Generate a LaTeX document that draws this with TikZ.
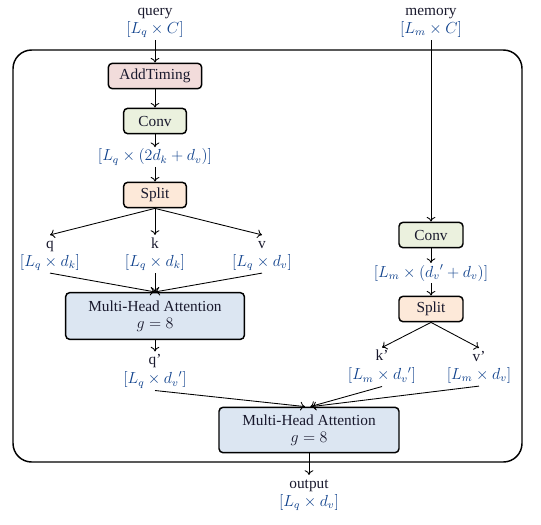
\documentclass[tikz,border=0pt]{standalone}
\usepackage{fontspec}
\setmainfont{Liberation Serif}
\usetikzlibrary{arrows.meta}

\definecolor{timingpink}{RGB}{242,220,219}
\definecolor{convgreen}{RGB}{235,241,222}
\definecolor{splitpeach}{RGB}{253,233,217}
\definecolor{attnblue}{RGB}{220,230,242}
\definecolor{dimblue}{RGB}{15,65,140}
\definecolor{labeltext}{RGB}{25,25,45}

\newcommand{\dims}[1]{\textcolor{dimblue}{$#1$}}
% name on top, shape below
\newcommand{\tensorlabel}[2]{\strut #1\\ \dims{#2}\strut}

\tikzset{
    block/.style = {draw, line width=1.1pt, rounded corners=3pt,
        minimum height=19pt, align=center, text=labeltext},
    tensor/.style = {align=center, text=labeltext, inner sep=1pt},
    flow/.style = {-{To[length=3.5pt, width=6.5pt]}, line width=0.65pt}
}

\begin{document}
\begin{tikzpicture}[x=0.75pt, y=-0.75pt, font=\fontsize{11.5}{12.5}\selectfont]
    \useasboundingbox (0,0) rectangle (541,524);
    \draw [line width=1.1pt, rounded corners=14pt] (13,50) rectangle (522,462);

    % query branch
    \draw (155,21) node(query) [tensor] {\tensorlabel{query}{[L_q\times C]}};
    \draw (155,76) node(timing) [block, fill=timingpink, minimum width=70pt] {AddTiming};
    \draw (155,121) node(conv) [block, fill=convgreen, minimum width=47pt] {Conv};
    \draw (155,157) node(qkv) [tensor] {\dims{[L_q\times(2d_k+d_v)]}};
    \draw (155,195) node(split) [block, fill=splitpeach, minimum width=47pt] {Split};
    \draw (50,254) node(q) [tensor] {\tensorlabel{q}{[L_q\times d_k]}};
    \draw (155,254) node(k) [tensor] {\tensorlabel{k}{[L_q\times d_k]}};
    \draw (262,254) node(v) [tensor] {\tensorlabel{v}{[L_q\times d_v]}};
    \draw (155,316) node(mha) [block, fill=attnblue, minimum width=134pt,
        minimum height=35pt] {Multi-Head Attention\\ $g=8$};
    \draw (155,371) node(qp) [tensor] {\tensorlabel{q’}{[L_q\times {d_v}']}};

    % memory branch
    \draw (431,21) node(memory) [tensor] {\tensorlabel{memory}{[L_m\times C]}};
    \draw (431,235) node(mconv) [block, fill=convgreen, minimum width=48pt] {Conv};
    \draw (431,273) node(kv) [tensor] {\dims{[L_m\times({d_v}'+d_v)]}};
    \draw (431,309) node(msplit) [block, fill=splitpeach, minimum width=48pt] {Split};
    \draw (382,367) node(kp) [tensor] {\tensorlabel{k’}{[L_m\times {d_v}']}};
    \draw (479,367) node(vp) [tensor] {\tensorlabel{v’}{[L_m\times d_v]}};

    % output
    \draw (309,430) node(mha2) [block, fill=attnblue, minimum width=135pt,
        minimum height=34pt] {Multi-Head Attention\\ $g=8$};
    \draw (309,494) node(output) [tensor] {\tensorlabel{output}{[L_q\times d_v]}};

    \draw [flow] (query) -- (timing);
    \draw [flow] (timing) -- (conv);
    \draw [flow] (conv) -- (qkv);
    \draw [flow] (qkv) -- (split);
    \draw [flow] (split.south) -- (q.north);
    \draw [flow] (split) -- (k);
    \draw [flow] (split.south) -- (v.north);
    \draw [flow] (q.south) -- (mha.north);
    \draw [flow] (k) -- (mha);
    \draw [flow] (v.south) -- (mha.north);
    \draw [flow] (mha) -- (qp);

    \draw [flow] (memory) -- (mconv);
    \draw [flow] (mconv) -- (kv);
    \draw [flow] (kv) -- (msplit);
    \draw [flow] (msplit.south) -- (kp.north);
    \draw [flow] (msplit.south) -- (vp.north);

    \draw [flow] (qp.south) -- ([xshift=-3pt]mha2.north);
    \draw [flow] (kp.south) -- ([xshift=1pt]mha2.north);
    \draw [flow] (vp.south) -- ([xshift=2pt]mha2.north);
    \draw [flow] (mha2) -- (output);
\end{tikzpicture}
\end{document}
